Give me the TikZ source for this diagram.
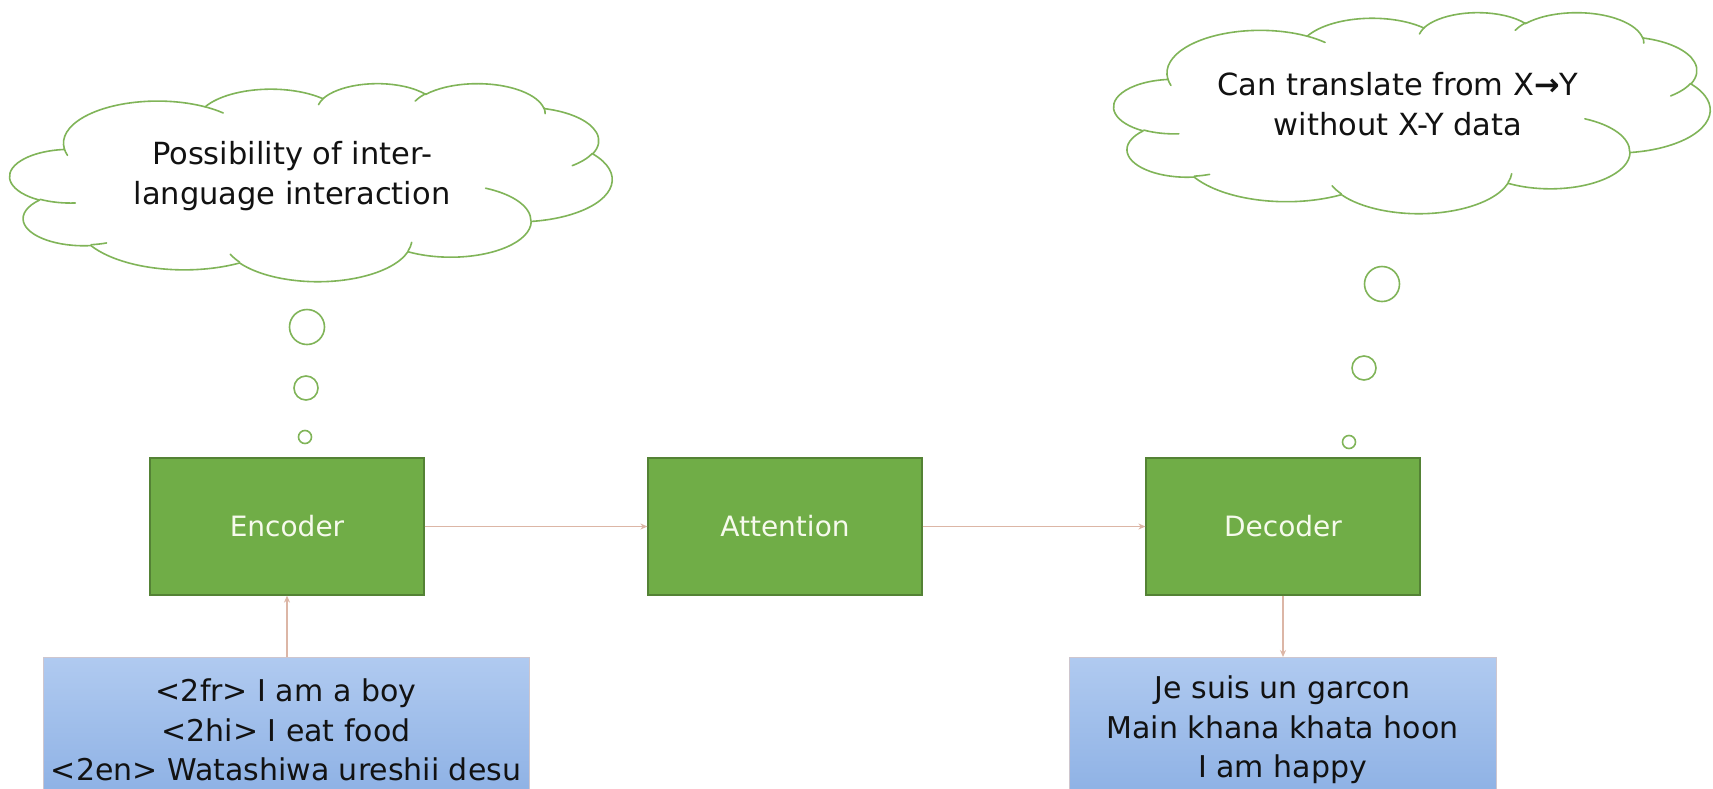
\documentclass[tikz,border=0pt]{standalone}
\usepackage{fontspec}
\setmainfont{DejaVu Sans}
\usetikzlibrary{arrows.meta}
\definecolor{boxgreen}{RGB}{112,173,71}
\definecolor{boxgreenline}{RGB}{84,130,53}
\definecolor{cloudline}{RGB}{128,180,88}
\definecolor{connector}{RGB}{220,182,166}
\definecolor{bluetop}{RGB}{176,202,240}
\definecolor{bluebot}{RGB}{140,176,228}
\definecolor{blueline}{RGB}{206,198,206}
\definecolor{textdark}{RGB}{18,18,18}
\definecolor{boxtext}{RGB}{246,250,236}
\newcommand\thoughtcloud[4]{%
  \begin{scope}[shift={(#1,#2)}, xscale=#3/43.2, yscale=#4/43.2]
    \filldraw[cloud outline] (3.900,14.370)
      arc[ppt={6.753}{9.190}{-190.4875}{123.7805}]
      arc[ppt={5.333}{7.267}{-144.1024}{89.9452}]
      arc[ppt={4.365}{5.945}{-145.8079}{99.7230}]
      arc[ppt={4.857}{6.595}{-130.9861}{117.2417}]
      arc[ppt={5.333}{7.273}{-78.7089}{109.0269}]
      arc[ppt={6.775}{9.220}{-46.2673}{130.2690}]
      arc[ppt={5.785}{7.867}{0.6250}{114.0333}]
      arc[ppt={6.752}{9.215}{22.4516}{115.1726}]
      arc[ppt={7.720}{10.543}{66.2426}{75.7110}]
      arc[ppt={4.360}{5.918}{-274.9421}{146.7356}]
      arc[ppt={4.345}{5.945}{-246.8285}{152.5189}]
      -- cycle;
    \draw[cloud inner]
      (4.693,26.177) arc[ppt={4.345}{5.945}{86.7420}{26.4295}]
      (6.928,34.899) arc[ppt={4.360}{5.918}{73.6105}{11.4475}]
      (16.478,39.090) arc[ppt={6.752}{9.215}{137.6242}{14.0811}]
      (28.827,34.751) arc[ppt={6.752}{9.215}{6.4533}{15.9984}]
      (34.129,22.954) arc[ppt={5.785}{7.867}{-70.2924}{70.9174}]
      (41.798,15.354) arc[ppt={5.333}{7.273}{30.3180}{27.7515}]
      (38.324,5.426) arc[ppt={4.857}{6.595}{-13.7443}{14.8589}]
      (29.078,3.952) arc[ppt={4.857}{6.595}{-149.1815}{18.1954}]
      (22.141,4.720) arc[ppt={4.365}{5.945}{-163.4943}{17.6864}]
      (14.000,5.192) arc[ppt={6.753}{9.190}{-66.7070}{12.3194}]
      (4.127,15.789) arc[ppt={6.753}{9.190}{157.6544}{11.8582}];
  \end{scope}}
\begin{document}
\begin{tikzpicture}[x=1pt,y=-1pt,
  declare function={pa(\w,\h,\a)=atan2(\w*sin(\a),\h*cos(\a));
                    dl(\w,\h,\a,\s)=mod(pa(\w,\h,\a+\s)-pa(\w,\h,\a)+720,360)-360*(\s<0);},
  ppt/.style n args={4}{x radius=#1, y radius=#2, start angle={pa(#1,#2,#3)}, delta angle={dl(#1,#2,#3,#4)}},
  cloud outline/.style={draw=cloudline, fill=white, line width=1.6pt, line join=round},
  cloud inner/.style={draw=cloudline, line width=1.6pt, line cap=round},
  cloudtext/.style={align=center, text=textdark, inner sep=0pt, font=\fontsize{30.5}{40}\selectfont},
  bubble/.style={circle, draw=cloudline, line width=1.6pt, fill=white, inner sep=0pt},
  gbox/.style={rectangle, fill=boxgreen, draw=boxgreenline, line width=1.2pt, minimum width=274pt, minimum height=137pt, text=boxtext, font=\fontsize{28}{34}\selectfont},
  bbox/.style={rectangle, top color=bluetop, bottom color=bluebot, draw=blueline, line width=1pt, minimum height=145pt, align=center, text=textdark, font=\fontsize{30}{39.5}\selectfont},
  conn/.style={draw=connector, line width=1.5pt, -{Stealth[length=7pt,width=6pt]}}
]
\useasboundingbox (0,0) rectangle (1713,788);
\clip (0,0) rectangle (1713,788);
\fill[white] (0,0) rectangle (1713,788);
\thoughtcloud{10}{83}{602}{198}
\thoughtcloud{1114}{12}{596}{201}
\node[cloudtext] (t1) at (292,176) {Possibility of inter-\\language interaction};
\node[cloudtext] (t2) at (1398,104) {Can translate from X{\bfseries →}Y\\without X-Y data};
\node[bubble, minimum size=35pt] (lb1) at (307,327) {};
\node[bubble, minimum size=24pt] (lb2) at (306,388) {};
\node[bubble, minimum size=13pt] (lb3) at (305,437) {};
\node[bubble, minimum size=35pt] (rb1) at (1382,284) {};
\node[bubble, minimum size=24pt] (rb2) at (1364,368) {};
\node[bubble, minimum size=13pt] (rb3) at (1349,442) {};
\node[gbox] (enc) at (287,526.5) {Encoder};
\node[gbox] (att) at (785,526.5) {Attention};
\node[gbox] (dec) at (1283,526.5) {Decoder};
\node[bbox, minimum width=486pt, anchor=north] (src) at (286,657) {<2fr> I am a boy\\<2hi> I eat food\\<2en> Watashiwa ureshii desu};
\node[bbox, minimum width=427pt, anchor=north] (tgt) at (1282.5,657) {Je suis un garcon\\Main khana khata hoon\\I am happy};
\draw[conn] (enc) -- (att);
\draw[conn] (att) -- (dec);
\draw[conn] (src.north -| enc.south) -- (enc.south);
\draw[conn] (dec.south) -- (dec.south |- tgt.north);
\end{tikzpicture}
\end{document}
